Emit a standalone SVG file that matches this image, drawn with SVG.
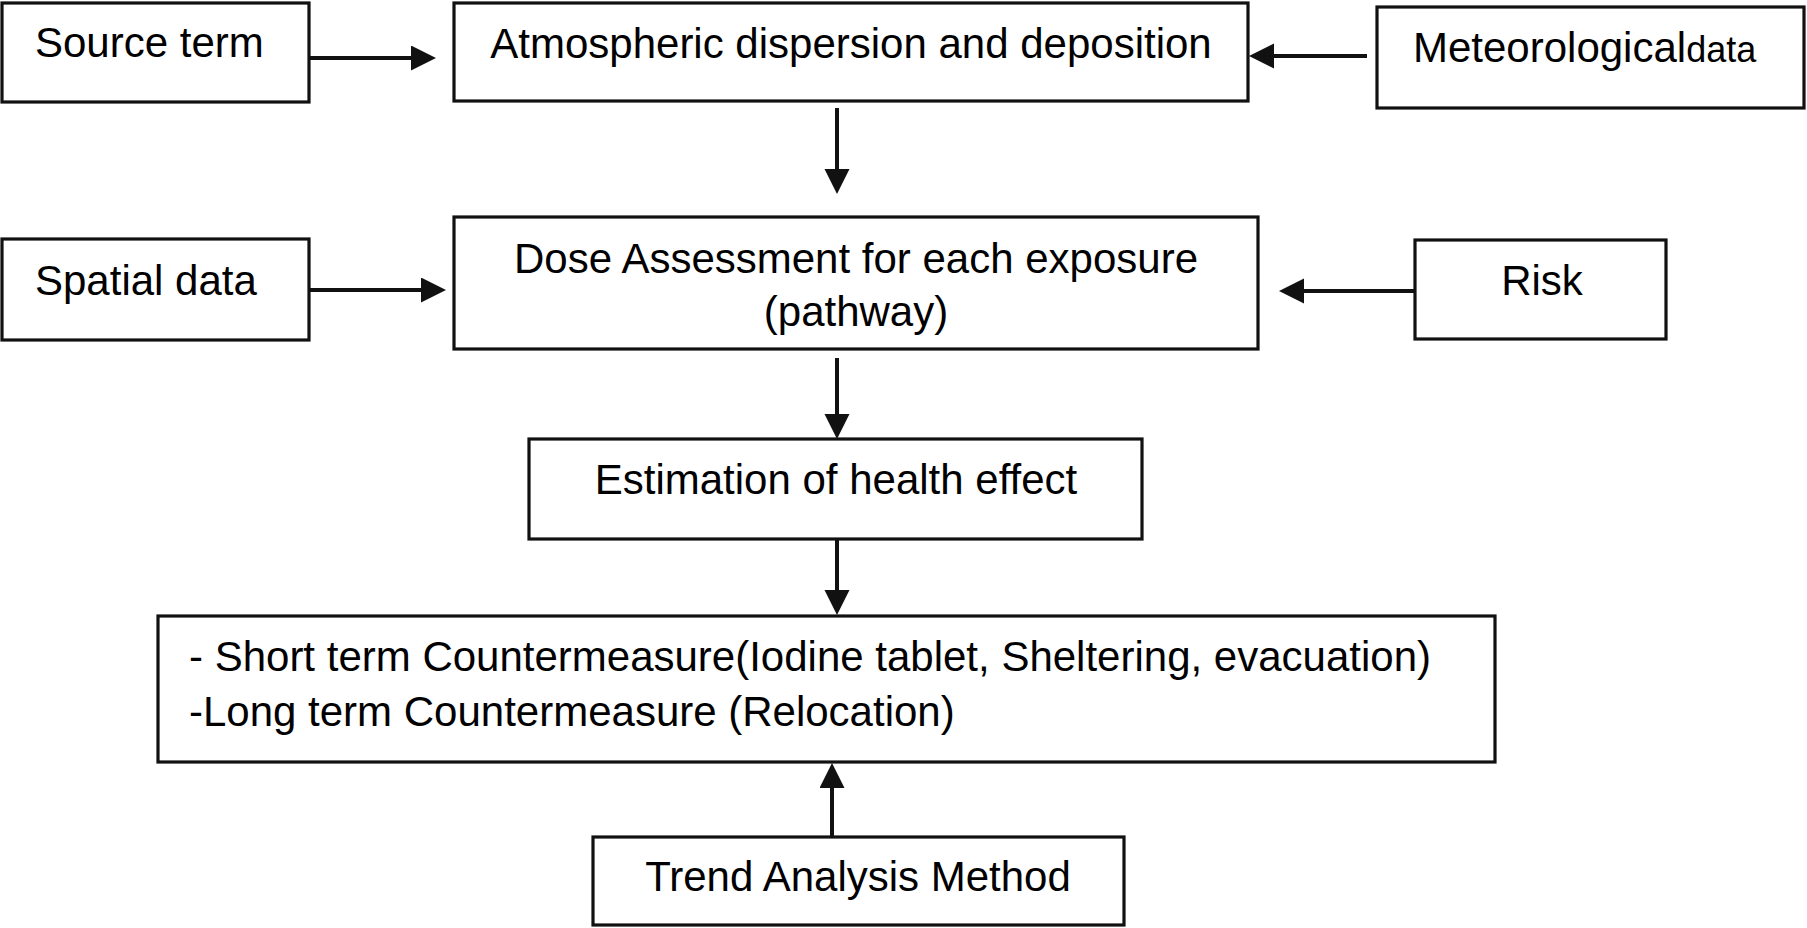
<svg xmlns="http://www.w3.org/2000/svg" width="1807" height="928" viewBox="0 0 1807 928">
<style>
.box{fill:#fff;stroke:#111;stroke-width:3.2}
.t{font-family:"Liberation Sans",Arial,sans-serif;font-size:42px;fill:#000}
.c{stroke:#111;stroke-width:4;fill:none}
</style>
<defs>
<marker id="ah" markerUnits="userSpaceOnUse" markerWidth="26" markerHeight="26" refX="0" refY="12.5" orient="auto">
<path d="M0,0 L25,12.5 L0,25 z" fill="#111"/>
</marker>
</defs>
<rect width="1807" height="928" fill="#fff"/>
<g id="source">
<rect class="box" x="2" y="3" width="307" height="99"/>
<text class="t" x="35" y="57">Source term</text>
</g>
<g id="atmos">
<rect class="box" x="454" y="3" width="794" height="98"/>
<text class="t" x="851" y="58" text-anchor="middle">Atmospheric dispersion and deposition</text>
</g>
<g id="meteo">
<rect class="box" x="1377" y="7" width="427" height="101"/>
<text class="t" x="1413" y="62">Meteorological<tspan font-size="36px">data</tspan></text>
</g>
<g id="spatial">
<rect class="box" x="2" y="239" width="307" height="101"/>
<text class="t" x="35" y="295">Spatial data</text>
</g>
<g id="dose">
<rect class="box" x="454" y="217" width="804" height="132"/>
<text class="t" x="856" y="273" text-anchor="middle">Dose Assessment for each exposure</text>
<text class="t" x="856" y="326" text-anchor="middle">(pathway)</text>
</g>
<g id="risk">
<rect class="box" x="1415" y="240" width="251" height="99"/>
<text class="t" x="1542" y="295" text-anchor="middle">Risk</text>
</g>
<g id="estimation">
<rect class="box" x="529" y="439" width="613" height="100"/>
<text class="t" x="836" y="494" text-anchor="middle">Estimation of health effect</text>
</g>
<g id="countermeasure">
<rect class="box" x="158" y="616" width="1337" height="146"/>
<text class="t" x="189" y="671">- Short term Countermeasure(Iodine tablet, Sheltering, evacuation)</text>
<text class="t" x="189" y="726">-Long term Countermeasure (Relocation)</text>
</g>
<g id="trend">
<rect class="box" x="593" y="837" width="531" height="88"/>
<text class="t" x="858" y="891" text-anchor="middle">Trend Analysis Method</text>
</g>
<g id="connectors">
<line class="c" x1="309" y1="58" x2="411" y2="58" marker-end="url(#ah)"/>
<line class="c" x1="1367" y1="56" x2="1274" y2="56" marker-end="url(#ah)"/>
<line class="c" x1="309" y1="290" x2="421" y2="290" marker-end="url(#ah)"/>
<line class="c" x1="1414" y1="291" x2="1304" y2="291" marker-end="url(#ah)"/>
<line class="c" x1="837" y1="108" x2="837" y2="169" marker-end="url(#ah)"/>
<line class="c" x1="837" y1="358" x2="837" y2="414" marker-end="url(#ah)"/>
<line class="c" x1="837" y1="540" x2="837" y2="590" marker-end="url(#ah)"/>
<line class="c" x1="832" y1="836" x2="832" y2="788" marker-end="url(#ah)"/>
</g>
</svg>
